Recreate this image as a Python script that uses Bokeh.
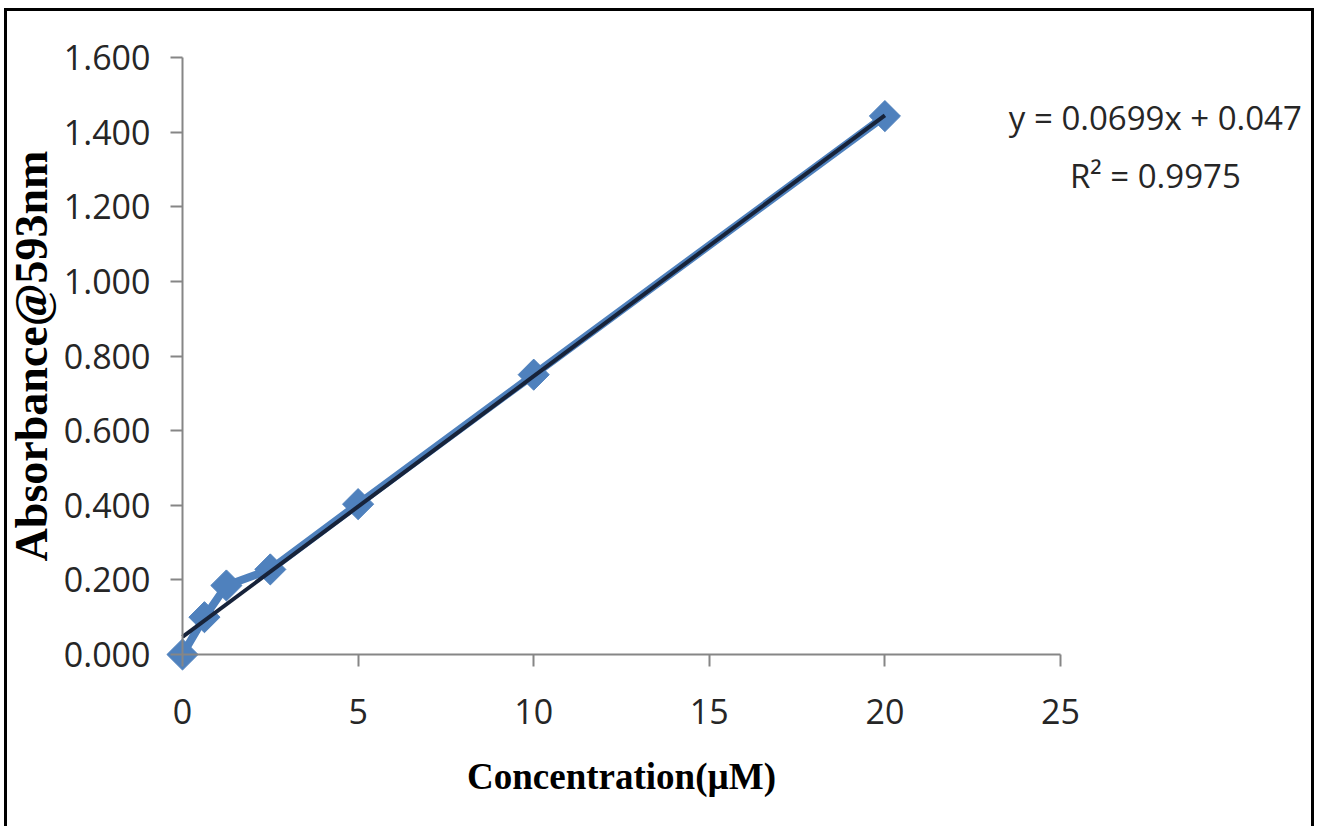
import math
from bokeh.plotting import figure
from bokeh.models import Range1d, FixedTicker, NumeralTickFormatter, Label
from bokeh.embed import file_html
from bokeh.resources import INLINE

# Data
concentration = [0.0, 0.625, 1.25, 2.5, 5.0, 10.0, 20.0]
absorbance = [0.0, 0.100, 0.185, 0.228, 0.403, 0.750, 1.443]
slope = 0.0699
intercept = 0.047
trend_x = [0.0, 20.0]
trend_y = [intercept + slope * x for x in trend_x]
x_ticks = [0, 5, 10, 15, 20, 25]
y_ticks = [0.0, 0.2, 0.4, 0.6, 0.8, 1.0, 1.2, 1.4, 1.6]
x_title = "Concentration(µM)"
y_title = "Absorbance@593nm"
eq_text = "y = 0.0699x + 0.047"
r2_text = "R² = 0.9975"

TICK_FONT = "Open Sans"
TITLE_FONT = "Liberation Serif"
AXIS_COLOR = "#868686"
BLUE = "#4F81BD"

# Canvas layout (pixels): plot axes span from px 175..1053 horizontally, 46..643 vertically
W, H = 1310, 818
AX_L, AX_R, AX_T, AX_B = 175, 1053, 46, 643
XMAX_AX, YMAX_AX = 25.0, 1.6
ppx = (AX_R - AX_L) / XMAX_AX
ppy = (AX_B - AX_T) / YMAX_AX
x_lo, x_hi = -AX_L / ppx, (W - AX_L) / ppx
y_lo, y_hi = -(H - AX_B) / ppy, AX_B / ppy

p = figure(width=W, height=H, output_backend="svg", toolbar_location=None,
           x_range=Range1d(x_lo, x_hi), y_range=Range1d(y_lo, y_hi),
           min_border=0, min_border_left=0, min_border_right=0,
           min_border_top=0, min_border_bottom=0)
p.styles = {"border": "3px solid black", "border-bottom": "none",
            "margin-left": "4px", "margin-top": "8px"}
p.outline_line_color = None
p.xgrid.grid_line_color = None
p.ygrid.grid_line_color = None
p.background_fill_color = "white"
p.border_fill_color = "white"

for ax in (p.xaxis[0], p.yaxis[0]):
    ax.fixed_location = 0
    ax.axis_line_color = AXIS_COLOR
    ax.axis_line_width = 2
    ax.major_tick_line_color = AXIS_COLOR
    ax.major_tick_line_width = 2
    ax.major_tick_in = 0
    ax.major_tick_out = 12
    ax.minor_tick_line_color = None
    ax.major_label_text_font = TICK_FONT
    ax.major_label_text_font_size = "34px"
    ax.major_label_text_color = "#262626"

p.xaxis.bounds = (0, XMAX_AX)
p.yaxis.bounds = (0, YMAX_AX)
p.xaxis.ticker = FixedTicker(ticks=x_ticks)
p.yaxis.ticker = FixedTicker(ticks=y_ticks)
p.yaxis.formatter = NumeralTickFormatter(format="0.000")
p.xaxis.major_label_standoff = 32
p.yaxis.major_label_standoff = 20

p.line(concentration, absorbance, line_color=BLUE, line_width=8)
p.scatter(concentration, absorbance, marker="square", angle=0.785398, size=22,
          fill_color=BLUE, line_color=BLUE)
p.line(trend_x, trend_y, line_color="#17233a", line_width=4)

# Axis titles
p.add_layout(Label(x=12.5, y=-0.327, text=x_title, text_align="center", text_baseline="middle",
                   text_font=TITLE_FONT, text_font_style="bold", text_font_size="37px",
                   text_color="black"))
p.add_layout(Label(x=-4.30, y=0.80, text=y_title, text_align="center", text_baseline="middle",
                   angle=math.pi / 2, text_font=TITLE_FONT, text_font_style="bold",
                   text_font_size="46px", text_color="black"))

# Trendline equation
p.add_layout(Label(x=27.7, y=1.439, text=eq_text, text_align="center", text_baseline="middle",
                   text_font=TICK_FONT, text_font_size="33px", text_color="#262626"))
p.add_layout(Label(x=27.7, y=1.284, text=r2_text, text_align="center", text_baseline="middle",
                   text_font=TICK_FONT, text_font_size="33px", text_color="#262626"))

open("out.html", "w").write(file_html(p, INLINE))
